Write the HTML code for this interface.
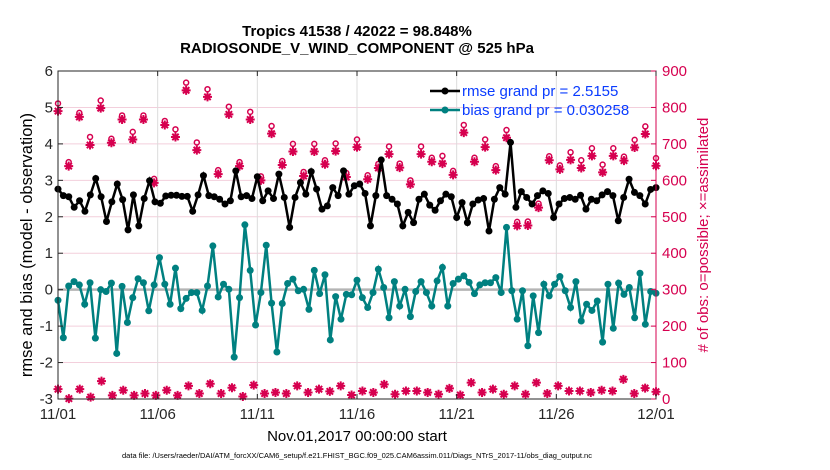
<!DOCTYPE html>
<html><head><meta charset="utf-8"><style>
body{margin:0;background:#fff;}
svg{display:block;font-family:"Liberation Sans",sans-serif;}
</style></head><body>
<svg id="chart" width="830" height="470">
<g id="grid"></g>
<g id="marks"></g>
<g id="axes"></g>
<text x="357" y="36" text-anchor="middle" font-size="15" font-weight="bold">Tropics 41538 / 42022 = 98.848%</text>
<text x="357" y="53" text-anchor="middle" font-size="15" font-weight="bold">RADIOSONDE_V_WIND_COMPONENT @ 525 hPa</text>
<text x="357" y="441" text-anchor="middle" font-size="15">Nov.01,2017 00:00:00 start</text>
<text x="357" y="458" text-anchor="middle" font-size="7.5">data file: /Users/raeder/DAI/ATM_forcXX/CAM6_setup/f.e21.FHIST_BGC.f09_025.CAM6assim.011/Diags_NTrS_2017-11/obs_diag_output.nc</text>
<text transform="translate(32,245) rotate(-90)" text-anchor="middle" font-size="16.5">rmse and bias (model - observation)</text>
<text transform="translate(708,235) rotate(-90)" text-anchor="middle" font-size="15" fill="#d6004f"># of obs: o=possible; ×=assimilated</text>
<g>
<line x1="430" y1="91" x2="460" y2="91" stroke="#000" stroke-width="2.5"/>
<circle cx="445" cy="91" r="3.5" fill="#000"/>
<text x="462" y="96" font-size="15" fill="#0a3cff">rmse grand pr = 2.5155</text>
<line x1="430" y1="110" x2="460" y2="110" stroke="#008080" stroke-width="2.5"/>
<circle cx="445" cy="110" r="3.5" fill="#008080"/>
<text x="462" y="115" font-size="15" fill="#0a3cff">bias grand pr = 0.030258</text>
</g>
</svg>
<script>
const xTickLabels=["11/01","11/06","11/11","11/16","11/21","11/26","12/01"];
const yLeftTicks=[6,5,4,3,2,1,0,-1,-2,-3];
const yRightTicks=[0,100,200,300,400,500,600,700,800,900];
const rmse=[2.76,2.58,2.55,2.26,2.44,2.15,2.60,3.05,2.55,1.87,2.41,2.90,2.47,1.64,2.60,1.75,2.50,2.99,2.41,2.37,2.57,2.59,2.59,2.56,2.56,2.15,2.60,3.13,
2.58,2.55,2.48,2.35,2.44,3.26,2.55,2.58,2.50,3.10,2.44,2.71,2.50,3.17,2.53,1.71,2.53,2.94,2.62,3.24,2.76,2.21,2.30,2.80,2.58,3.26,2.62,
2.85,2.90,2.64,1.75,2.58,3.56,2.58,2.48,2.35,1.75,2.12,1.84,2.48,2.62,2.32,2.18,2.44,2.62,2.55,1.98,2.39,1.84,2.35,2.46,2.50,1.61,2.48,2.80,
2.62,4.04,2.26,2.69,2.53,2.35,2.58,2.71,2.64,1.98,2.35,2.50,2.53,2.48,2.59,2.21,2.48,2.44,2.60,2.69,2.58,1.89,2.53,3.03,2.67,2.58,2.35,2.75,2.80];
const bias=[-0.29,-1.32,0.10,0.22,0.13,-0.40,0.19,-1.33,0.0,-0.05,0.18,-1.75,0.09,-0.90,-0.22,0.30,0.19,-0.58,0.13,0.88,0.15,-0.40,0.59,-0.52,-0.24,-0.08,-0.08,-0.57,
0.10,1.20,-0.20,0.15,0.01,-1.85,-0.22,1.78,0.53,-0.97,-0.08,1.22,-0.37,-1.71,-0.38,0.17,0.29,-0.03,0.01,-0.54,0.53,-0.11,0.41,-1.38,-0.19,-0.81,-0.13,
-0.14,0.26,-0.22,-0.49,-0.08,0.56,0.06,-0.77,0.22,-0.45,0.01,-0.74,-0.05,0.22,-0.08,-0.45,0.24,0.61,-0.45,0.17,0.29,0.38,0.20,-0.11,0.13,0.19,0.19,0.33,
-0.08,1.71,-0.03,-0.81,-0.03,-1.54,-0.17,-1.18,0.15,-0.17,0.15,0.36,-0.03,-0.49,0.22,-0.86,-0.40,-0.57,-0.31,-1.44,0.15,-1.06,0.18,-0.13,0.06,-0.77,0.45,-0.95,-0.05,-0.10];
const obsAssim=[790,639,774,697,798,703,767,712,767,593,752,719,847,683,
829,617,781,639,767,600,728,642,679,612,679,644,680,609,
691,603,634,672,635,589,672,651,646,615,731,651,691,
628,717,475,476,525,655,630,656,634,667,622,667,654,690,727,640];
const obsPossible=[800,639,774,708,808,703,767,722,767,593,752,729,857,693,
839,617,791,639,777,600,738,642,689,612,689,644,690,609,
701,603,634,682,635,589,682,651,656,615,741,651,701,
628,727,475,476,525,655,630,666,644,677,632,677,654,700,737,650];
const obsLow=[27,1,27,5,49,10,24,10,15,10,24,10,36,15,
42,15,31,7,38,15,18,15,36,18,27,21,36,
11,22,18,40,13,22,22,18,13,29,11,45,18,27,
13,36,13,45,15,36,22,22,18,24,22,54,15,30,20];

const NS="http://www.w3.org/2000/svg";
const L=58,R=656,T=71,B=399;
const xDay=d=>L+(R-L)*d/30;
const yL=v=>T+(6-v)*(B-T)/9;
const yR=v=>B-v*(B-T)/900;
function mk(tag,attrs,parent){const e=document.createElementNS(NS,tag);for(const k in attrs)e.setAttribute(k,attrs[k]);parent.appendChild(e);return e;}
const grid=document.getElementById('grid'),marks=document.getElementById('marks'),axes=document.getElementById('axes');

yRightTicks.forEach(v=>{const g=mk('line',{x1:L,x2:R,y1:yR(v),y2:yR(v),stroke:'#f3cfdc','stroke-width':1},grid);

});
xTickLabels.forEach((t,i)=>{const x=xDay(i*5);const g=mk('line',{x1:x,x2:x,y1:T,y2:B,stroke:'#dcdcdc','stroke-width':1},grid);

});
const z=mk('line',{x1:L,x2:R,y1:yL(0),y2:yL(0),stroke:'#b4b4b4','stroke-width':2.5},grid);



function star(x,y,parent,name){const g=mk('g',{},parent);


mk('path',{d:`M${x-4.5} ${y}H${x+4.5}M${x} ${y-4.5}V${y+4.5}M${x-3.2} ${y-3.2}L${x+3.2} ${y+3.2}M${x-3.2} ${y+3.2}L${x+3.2} ${y-3.2}`,stroke:'#d6004f','stroke-width':2},g);
mk('circle',{cx:x,cy:y,r:2.8,fill:'#d6004f'},g);}
obsAssim.forEach((v,i)=>{const x=xDay(i*30/(obsAssim.length-1));star(x,yR(v),marks,'obs-assimilated');
const c=mk('circle',{cx:x,cy:yR(obsPossible[i])-4,r:2.5,fill:'none',stroke:'#d6004f','stroke-width':1.5},marks);

});
obsLow.forEach((v,i)=>{star(xDay(i*30/(obsLow.length-1)),yR(v),marks,'obs-low');});

function series(arr,color,name){const pts=arr.map((v,i)=>[xDay(i*30/(arr.length-1)),yL(v)]);
const p=mk('polyline',{points:pts.map(p=>p.join(',')).join(' '),fill:'none',stroke:color,'stroke-width':2.5},marks);


pts.forEach(q=>{const c=mk('circle',{cx:q[0],cy:q[1],r:3.5,fill:color},marks);

});}
series(bias,'#008080','bias');
series(rmse,'#000000','rmse');

const box=mk('rect',{x:L,y:T,width:R-L,height:B-T,fill:'none',stroke:'#262626','stroke-width':1},axes);


yLeftTicks.forEach(v=>{const y=yL(v);mk('line',{x1:L,x2:L+5,y1:y,y2:y,stroke:'#262626'},axes);
const t=mk('text',{x:L-5,y:y+5,'text-anchor':'end','font-size':15,fill:'#262626'},axes);t.textContent=v;

});
yRightTicks.forEach(v=>{const y=yR(v);mk('line',{x1:R-5,x2:R,y1:y,y2:y,stroke:'#d6004f'},axes);
const t=mk('text',{x:R+6,y:y+5,'font-size':15,fill:'#d6004f'},axes);t.textContent=v;

});
mk('line',{x1:R,x2:R,y1:T,y2:B,stroke:'#d6004f'},axes);
xTickLabels.forEach((s,i)=>{const x=xDay(i*5);mk('line',{x1:x,x2:x,y1:B,y2:B-5,stroke:'#262626'},axes);mk('line',{x1:x,x2:x,y1:T,y2:T+5,stroke:'#262626'},axes);
const t=mk('text',{x:x,y:B+20,'text-anchor':'middle','font-size':15,fill:'#262626'},axes);t.textContent=s;

});
</script>
</body></html>
